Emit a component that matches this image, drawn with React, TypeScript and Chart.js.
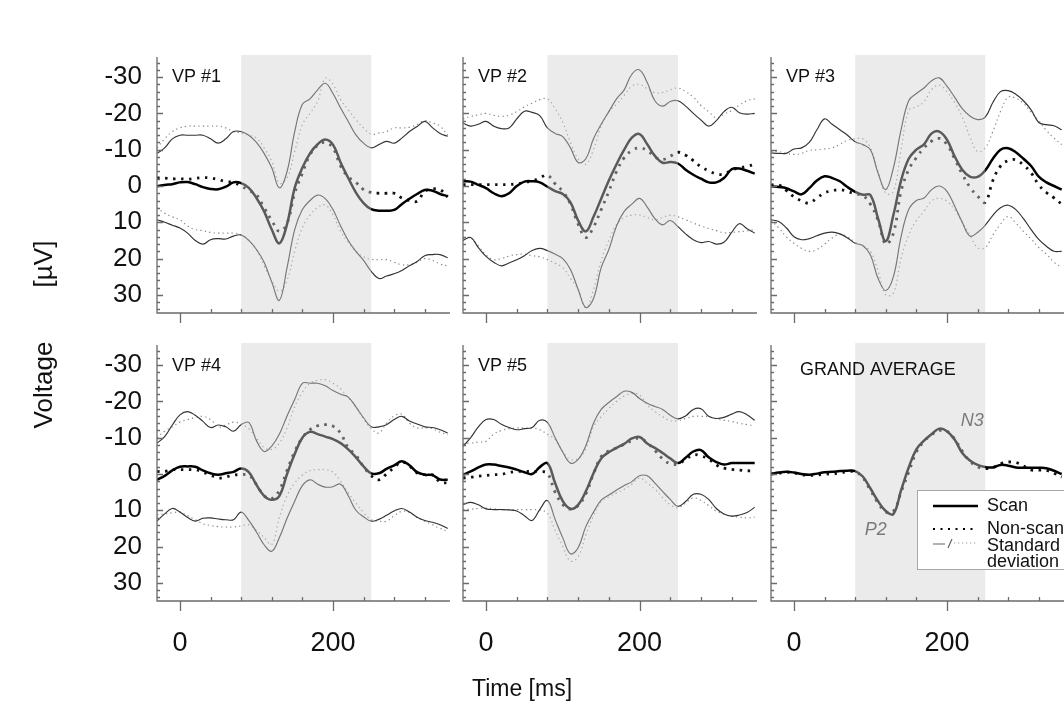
import React, { useEffect, useRef } from "react";
import { Chart, registerables } from "chart.js";

Chart.register(...registerables);

const FONT = '"Liberation Sans", Arial, Helvetica, sans-serif';
Chart.defaults.font.family = FONT;

// ---------- data ----------
const times = [-30, -20, -10, 0, 10, 20, 30, 40, 50, 60, 70, 80, 90, 100, 110, 120, 130, 140, 150, 160, 170, 180, 190, 200, 210, 220, 230, 240, 250, 260, 270, 280, 290, 300, 310, 320, 330, 340, 350];
const xTickValues = [0, 200];
const xMinorTicks = [40, 80, 120, 160, 240, 280, 320];
const yTickValues = [-30, -20, -10, 0, 10, 20, 30];
const windowStart = 80;
const windowEnd = 250;
const X_MIN = -30;
const X_MAX = 353;
const Y_MIN = -35;
const Y_MAX = 35;

const vp1Scan = [0.1, -0.3, -0.5, -1.0, -1.1, -0.5, 0.3, 0.8, 0.9, 0.2, -1.0, -0.8, 0.5, 3.3, 7, 12, 15.8, 10.5, 0.5, -5, -9, -11.5, -12.8, -11.4, -6.5, -2.2, 1.8, 4.7, 6.4, 6.8, 6.8, 6.6, 5, 3.5, 2.2, 1.1, 1.3, 2.2, 2.8];
const vp1NonScan = [-2.2, -2.2, -2.0, -2.0, -1.9, -2.1, -2.3, -2.2, -1.8, -1.2, -1.0, 0, 1.2, 2.4, 6, 9.5, 12.5, 10.3, 2, -3.5, -8.6, -11.2, -12, -10.5, -5.5, -2.5, -1, 1, 1.8, 2, 2, 2, 3.3, 4, 4.2, 1.5, 0.8, 1.0, 3];
const vp1ScanUpper = [-9, -10.5, -13, -14, -14, -14, -14, -13, -11.8, -13, -15, -15, -14, -12, -9, -5, 0.5, -4, -15, -22.5, -24, -26.5, -28.3, -25.5, -21.5, -17.8, -14.1, -11.8, -10.5, -11.4, -12.3, -11.8, -13.2, -15, -16.4, -17.8, -16.1, -14.5, -13.7];
const vp1ScanLower = [9.3, 10, 10.8, 11.6, 13, 15, 16, 14.8, 14.5, 14.6, 13.8, 13.5, 15, 17.5, 21, 26.5, 31.5, 22.5, 12, 6.5, 4, 2.5, 3.5, 6.5, 11, 15, 18, 20.5, 23.5, 25.5, 24.8, 24.2, 23.3, 22, 20.8, 19.2, 18.9, 18.9, 19.8];
const vp1NonUpper = [-10.5, -13, -15, -16, -16.5, -16.5, -16.5, -16.5, -16.5, -16, -15, -14.6, -14, -13.2, -10.5, -6.8, -0.8, -2.2, -9.5, -16.9, -20, -23.3, -29.7, -28, -23.8, -21, -18.3, -16, -14.3, -14.6, -15, -16, -16, -16.2, -16.9, -18, -17.4, -16.5, -14];
const vp1NonLower = [6, 7.5, 8.5, 9.3, 11, 12, 12.3, 12.8, 13, 13, 13, 13.5, 15, 17.5, 22, 26, 29, 26, 18, 11.5, 8, 6, 5.2, 8, 12.5, 15.5, 18, 19.5, 20.2, 20.3, 20.3, 21, 21.7, 21.7, 21, 20, 20.5, 21.5, 22];

const vp2Scan = [-1.3, -1.2, -0.3, 0.6, 2, 2.8, 2, 0, -1.2, -1.3, -1, 0.2, 1.4, 2.2, 4.5, 9.5, 12.5, 8.5, 3.5, -1.5, -6, -10, -13.3, -14.3, -11.5, -8.3, -6.4, -6.6, -6.2, -4.5, -3.1, -2, -1, -1, -2.2, -4.6, -4.8, -4.2, -3.4];
const vp2NonScan = [-0.4, -0.4, -0.4, -0.4, -0.4, -0.4, -0.4, -0.6, -1, -1.4, -2.2, -3, -0.6, 1.5, 5, 10.5, 14.2, 11.3, 6.5, 1.5, -4, -7.8, -9.8, -10.5, -9.8, -8, -7.3, -8.2, -9.3, -8.5, -7, -5.3, -4.2, -3.3, -3.3, -4.4, -5, -5.4, -6];
const vp2ScanUpper = [-17.3, -16.5, -17, -17.8, -16.5, -15.8, -16, -18.5, -20.6, -20.3, -19.4, -16, -14.5, -13.6, -10.5, -6.5, -7.5, -13, -17, -20.5, -24, -26.5, -30.8, -32, -28.5, -23.5, -22, -23.3, -23.5, -22, -20, -18.2, -16.5, -18, -20.5, -21.7, -20.2, -19.8, -20];
const vp2ScanLower = [15, 14.2, 17, 19.4, 21, 22, 21.2, 20.3, 19.2, 17.8, 17.2, 17.8, 18.8, 20, 23, 28.5, 33.5, 31, 22.5, 17.5, 11, 7, 5, 3.4, 5.8, 9, 10.7, 9.5, 11.2, 13.2, 14.8, 15.6, 15.3, 16, 15.5, 12.8, 10.4, 11.8, 13];
const vp2NonUpper = [-18.5, -19.2, -19.6, -20, -19.5, -19.2, -19.5, -20.5, -21.8, -22.8, -23.8, -24, -21.3, -17.5, -12, -7.5, -6, -10, -16.5, -20.5, -22.5, -25, -27.5, -28, -26.8, -25.7, -25.8, -26.5, -27, -26, -24.5, -22.2, -20.5, -18.8, -19.8, -20.8, -22.3, -23.5, -24];
const vp2NonLower = [14.5, 14.3, 16.5, 19, 20.3, 20, 19.3, 18.9, 18.8, 19.2, 19.5, 20.3, 21.3, 22.5, 25.5, 28.5, 33.5, 28.5, 20.5, 15, 10.6, 8.7, 8, 8, 8.7, 9.3, 8.7, 8, 8.5, 9.3, 10.2, 11, 11.7, 12.3, 12.9, 12.8, 12.6, 12.4, 12];

const vp3Scan = [0.1, 0.3, 0.6, 1.5, 2.3, 0.6, -1.5, -2.7, -2.2, -1.3, 0.3, 1.6, 2.4, 2.5, 9, 15.2, 8, -1.5, -7.5, -10, -11.5, -14.5, -15, -12.8, -8.2, -4.5, -2.6, -2.5, -4.3, -7.5, -10, -10.4, -9.3, -7.5, -5.5, -2.6, -1, 0, 1];
const vp3NonScan = [-0.3, -0.3, 1.2, 3, 4.1, 4.7, 3.3, 1.9, 1.3, 1, 1.5, 2.2, 2.6, 5, 9.5, 16, 13, 1.5, -4.5, -7.8, -10.5, -12.4, -13.1, -11.4, -7.5, -3.3, 0.3, 2.8, 4.5, -1.5, -5.5, -7, -7.2, -5.8, -3.6, -0.3, 1.8, 3.3, 5];
const vp3ScanUpper = [-9.1, -9, -9, -10.2, -10.5, -12, -15.5, -18.5, -17, -15.5, -14, -12.2, -11.4, -10, -3.5, 1, -5, -15.5, -23.5, -25.5, -27, -29, -29.8, -27.5, -24.5, -21.3, -19.3, -18.3, -19, -23, -26, -26.3, -25.3, -23.5, -21, -17.5, -16.9, -16.6, -15.5];
const vp3ScanLower = [9.3, 9.8, 11.5, 14, 14.8, 14.5, 13.7, 13, 12.7, 13.2, 14.3, 15.8, 16.4, 19, 25.5, 28.8, 25, 14, 6.5, 4, 3.3, 1, 0, 1.5, 5.5, 10, 13.8, 12.8, 10.8, 8.1, 6, 5.3, 6.5, 9, 12, 14.7, 16.6, 18, 18];
const vp3NonUpper = [-9.5, -9.5, -9, -8.7, -9, -9.8, -10, -10.2, -10.5, -11.5, -12.6, -13, -13, -10.5, -4, 2, 1.5, -10, -20.8, -21.8, -23.2, -26.6, -27.8, -26, -23, -19, -13.6, -9.5, -10.5, -15, -20.5, -24.5, -24.2, -22.8, -20.3, -18, -15.3, -13.2, -11.4];
const vp3NonLower = [9.5, 11.5, 14, 15.8, 17.2, 18, 17.5, 16, 14.3, 13.3, 14, 15.5, 16.5, 18, 23.5, 30, 29.5, 20, 13.5, 9.5, 7, 4.1, 3.4, 4.2, 6.5, 10, 13.5, 17, 17, 13.5, 10.5, 8.4, 10.2, 12.5, 14.6, 17, 18.8, 21, 22.5];

const vp4Scan = [1.6, 0.5, -1, -2, -2.1, -2, -1, -0.2, 0.2, -0.2, -0.6, -1.5, -0.5, 3, 6, 7.1, 6, 0, -5.5, -10, -11.6, -11, -10.3, -9.6, -8.5, -6.8, -4.6, -2.1, -0.2, -0.2, -1.4, -2.4, -3.5, -2.4, -0.5, 0.2, 0.3, 1.5, 1.6];
const vp4NonScan = [-0.7, -0.7, -1.2, -1.2, -1.2, -1.2, -0.5, 0.3, 1.1, 0.8, 0.3, 0.2, 0.3, 2.9, 6, 6.8, 4.5, -1, -6.2, -10, -12.2, -13.3, -13.6, -13.2, -11.2, -7.2, -5.2, -2, 0.5, 1.6, 0, -1.8, -3.3, -2.2, -0.3, 0.2, 0.2, 2.2, 2.5];
const vp4ScanUpper = [-8.5, -10.3, -13.5, -16.3, -17.2, -16.2, -14.5, -12.8, -13.5, -13, -11.8, -13.6, -14.2, -9.2, -6.2, -7.7, -11, -16, -20.5, -25, -25, -25, -24.3, -23, -22, -21.2, -18.5, -15.5, -13, -13, -13.6, -15, -15.9, -14.6, -13.8, -13, -12.8, -12.2, -11.3];
const vp4ScanLower = [13, 11, 9.5, 10.5, 12, 13, 12.2, 12.1, 12.4, 12.6, 12.6, 10.5, 12.8, 16, 19.5, 21.3, 17.5, 12.2, 7.5, 3.2, 1.6, 2.8, 3.6, 3.5, 2.8, 6, 10, 11.8, 13, 12.5, 11.4, 10.2, 9.5, 10.5, 11.9, 12.8, 13.3, 14, 15];
const vp4NonUpper = [-10, -11.8, -13, -14.3, -15, -15.5, -15.9, -15, -13, -13.5, -14.3, -13.8, -12.5, -9.9, -7.3, -6.8, -8.5, -12.7, -18.5, -22.5, -25, -25.8, -26, -25, -23.5, -21, -18.5, -15.2, -12.5, -11.3, -14, -16, -16.5, -14, -12.7, -12.7, -12.5, -11.5, -10.8];
const vp4NonLower = [11.2, 11, 10.7, 10.5, 11.5, 12.6, 13.7, 14.2, 14.5, 14.6, 14.6, 14.3, 14, 15.5, 17.5, 19.4, 12, 6, 2.5, 0.3, -0.9, -1.2, -1.2, -0.5, 2, 5.2, 8, 10.6, 12.6, 13, 13, 11.5, 10.3, 10.6, 12, 13, 14, 15, 15.8];

const vp5Scan = [0.2, -0.7, -1.8, -2.6, -2.6, -2.2, -1.8, -1.2, -0.5, 0, -1.9, -3, 2.5, 7.5, 9.6, 8.5, 4.8, -0.2, -4.3, -6, -7.2, -8.3, -9.8, -10.2, -8.4, -7.2, -5.8, -4.3, -3, -4.5, -6.2, -6.6, -4.6, -3.3, -2.6, -3, -3, -3, -3];
const vp5NonScan = [1.1, 0.9, 0.6, 0.4, 0.2, 0.1, -0.4, -0.7, -0.7, -0.7, -0.7, -0.2, 5, 8.4, 9.7, 8.7, 5.5, 0, -4.8, -6.4, -7.2, -8.2, -9.2, -9.9, -8.6, -6.5, -4.2, -2.8, -2.8, -4, -5.3, -5, -4.1, -2.5, -1.6, -1.3, -1.1, -0.9, -0.9];
const vp5ScanUpper = [-7.6, -10, -13, -15, -15, -13.7, -12.8, -12.2, -12.5, -12.8, -14.8, -14.2, -10, -6, -3, -4, -7.8, -14, -17.8, -19.7, -21.3, -22.8, -22.5, -20.8, -19.5, -18.6, -17.8, -16.2, -15.2, -16, -17.8, -18, -15.9, -15.3, -15.6, -16.5, -17.2, -16.3, -14.8];
const vp5ScanLower = [8.4, 7.8, 8.5, 9.6, 9.8, 9.8, 9.9, 10.2, 11.5, 12.8, 9.8, 7.3, 12.5, 17.6, 22, 20.3, 14.5, 10.5, 7.2, 5.8, 4.4, 3.2, 2.1, 0.5, 0.5, 2.5, 4.8, 7, 8.9, 7.6, 5.6, 5.6, 7, 9.5, 11, 11.6, 11.3, 10.6, 9.2];
const vp5NonUpper = [-8.3, -8.5, -8.8, -9, -11, -12, -12.5, -12.7, -12.7, -12.7, -12.2, -10.9, -9.5, -6.2, -4, -4.2, -7, -13, -15.8, -18, -20, -21.5, -22.2, -21.8, -19, -17.2, -15.8, -14.7, -14.7, -15.3, -15.9, -15.9, -15.8, -15.2, -14.8, -14.5, -14, -13.6, -13.3];
const vp5NonLower = [9.8, 9.7, 9.5, 9.4, 9.6, 9.8, 9.8, 9.8, 9.8, 9.8, 9.9, 10.8, 15.5, 20, 24, 22.8, 16.8, 11.5, 7.6, 6.3, 5.2, 4.2, 2.8, 1.1, 2.5, 4.2, 6.5, 8.5, 9.3, 8, 6.6, 7.3, 8.7, 10.2, 11, 11.6, 11.9, 12.1, 11.9];

const gaScan = [0, -0.4, -0.6, -0.4, 0, 0.2, -0.1, -0.5, -0.6, -0.8, -0.9, -0.8, 0.7, 4, 7.5, 10.2, 11, 4.5, -1.8, -6.8, -9.2, -11, -12.5, -11.8, -9.5, -5.8, -3.7, -2.5, -1.9, -1.8, -2.5, -2.3, -1.8, -1.7, -1.7, -1.7, -1.6, -0.9, 0];
const gaNonScan = [0, -0.2, -0.5, -0.3, 0.2, 0.4, 0.3, 0, 0, -0.3, -0.6, -0.6, 1, 4.5, 8, 10.5, 10.3, 5, -0.5, -6, -9, -10.8, -12, -11.8, -9.7, -6.3, -3.5, -2, -1.5, -1.8, -2.8, -3.3, -3.2, -2.2, -1.1, -1.1, -1, -0.2, 0.8];

const panelTitles = ["VP #1", "VP #2", "VP #3", "VP #4", "VP #5", "GRAND AVERAGE"];
const legendLabels = ["Scan", "Non-scan", "Standard", "deviation"];
const peakLabels = [
  { text: "N3", t: 233, v: -14.6 },
  { text: "P2", t: 107, v: 15.4 },
];

interface PanelData {
  title: string;
  scan: number[];
  nonScan: number[];
  scanUpper?: number[];
  scanLower?: number[];
  nonUpper?: number[];
  nonLower?: number[];
}

const panelData: PanelData[] = [
  { title: panelTitles[0], scan: vp1Scan, nonScan: vp1NonScan, scanUpper: vp1ScanUpper, scanLower: vp1ScanLower, nonUpper: vp1NonUpper, nonLower: vp1NonLower },
  { title: panelTitles[1], scan: vp2Scan, nonScan: vp2NonScan, scanUpper: vp2ScanUpper, scanLower: vp2ScanLower, nonUpper: vp2NonUpper, nonLower: vp2NonLower },
  { title: panelTitles[2], scan: vp3Scan, nonScan: vp3NonScan, scanUpper: vp3ScanUpper, scanLower: vp3ScanLower, nonUpper: vp3NonUpper, nonLower: vp3NonLower },
  { title: panelTitles[3], scan: vp4Scan, nonScan: vp4NonScan, scanUpper: vp4ScanUpper, scanLower: vp4ScanLower, nonUpper: vp4NonUpper, nonLower: vp4NonLower },
  { title: panelTitles[4], scan: vp5Scan, nonScan: vp5NonScan, scanUpper: vp5ScanUpper, scanLower: vp5ScanLower, nonUpper: vp5NonUpper, nonLower: vp5NonLower },
  { title: panelTitles[5], scan: gaScan, nonScan: gaNonScan },
];

// ---------- layout ----------
const W = 1064;
const H = 702;
const rowTop = [59, 347];
const rowBottom = [313, 601];
const colLeft = [157, 463, 771];
const colRight = [450, 757, 1064];
const Y_W = 60;
const X_H = 60;

interface Box { row: number; col: number; titleDx: number; titleDy: number; grand?: boolean }
const boxes: Box[] = [
  { row: 0, col: 0, titleDx: 15, titleDy: 18 },
  { row: 0, col: 1, titleDx: 15, titleDy: 18 },
  { row: 0, col: 2, titleDx: 15, titleDy: 18 },
  { row: 1, col: 0, titleDx: 15, titleDy: 19 },
  { row: 1, col: 1, titleDx: 15, titleDy: 19 },
  { row: 1, col: 2, titleDx: 29, titleDy: 23, grand: true },
];

const AXIS = "#6b6b6b";

function decor(d: PanelData, b: Box) {
  return {
    id: "decor",
    afterDatasetsDraw(chart: any) {
      const { ctx, chartArea: a, scales } = chart;
      const x0 = scales.x.getPixelForValue(windowStart);
      const x1 = scales.x.getPixelForValue(windowEnd);
      ctx.save();
      ctx.fillStyle = "rgba(209,209,209,0.43)";
      ctx.fillRect(x0, a.top - 4, x1 - x0, a.bottom - a.top + 4);
      ctx.restore();
    },
    afterDraw(chart: any) {
      const { ctx, chartArea: a, scales } = chart;
      const xs = scales.x;
      const ys = scales.y;
      ctx.save();
      ctx.strokeStyle = AXIS;
      ctx.lineWidth = 1.3;
      ctx.beginPath();
      ctx.moveTo(a.left, a.top - 2);
      ctx.lineTo(a.left, a.bottom);
      ctx.lineTo(a.right, a.bottom);
      for (let v = -34; v <= 34; v += 2) {
        const py = Math.round(ys.getPixelForValue(v)) + 0.5;
        const len = v % 10 === 0 ? 6 : 3;
        ctx.moveTo(a.left, py);
        ctx.lineTo(a.left + len, py);
      }
      for (const t of xMinorTicks) {
        const px = Math.round(xs.getPixelForValue(t)) + 0.5;
        ctx.moveTo(px, a.bottom);
        ctx.lineTo(px, a.bottom - 4);
      }
      for (const t of xTickValues) {
        const px = Math.round(xs.getPixelForValue(t)) + 0.5;
        ctx.moveTo(px, a.bottom);
        ctx.lineTo(px, a.bottom + 10);
      }
      ctx.stroke();

      // title
      ctx.fillStyle = "#111";
      ctx.font = `18px ${FONT}`;
      ctx.textBaseline = "middle";
      ctx.textAlign = "left";
      ctx.fillText(d.title, a.left + b.titleDx, a.top + b.titleDy);

      if (b.grand) {
        // peak labels
        ctx.fillStyle = "#7a7a7a";
        ctx.font = `italic 18px ${FONT}`;
        ctx.textAlign = "center";
        for (const p of peakLabels) {
          ctx.fillText(p.text, xs.getPixelForValue(p.t), ys.getPixelForValue(p.v));
        }
        // legend
        const lx = a.left + 146;
        const ly = a.top + 143;
        ctx.fillStyle = "#ffffff";
        ctx.fillRect(lx, ly, 200, 79);
        ctx.strokeStyle = "#a8a8a8";
        ctx.lineWidth = 1;
        ctx.strokeRect(lx + 0.5, ly + 0.5, 200, 79);
        const sx0 = lx + 16;
        const sx1 = lx + 61;
        const tx = lx + 70;
        // scan
        ctx.strokeStyle = "#000";
        ctx.lineWidth = 2.4;
        ctx.setLineDash([]);
        ctx.beginPath();
        ctx.moveTo(sx0, ly + 16);
        ctx.lineTo(sx1, ly + 16);
        ctx.stroke();
        // non-scan
        ctx.lineWidth = 2.2;
        ctx.setLineDash([2, 5.5]);
        ctx.beginPath();
        ctx.moveTo(sx0, ly + 39);
        ctx.lineTo(sx1, ly + 39);
        ctx.stroke();
        // sd symbol
        ctx.setLineDash([]);
        ctx.strokeStyle = "#666";
        ctx.lineWidth = 1.2;
        ctx.beginPath();
        ctx.moveTo(sx0, ly + 54);
        ctx.lineTo(sx0 + 12, ly + 54);
        ctx.moveTo(sx0 + 15, ly + 58);
        ctx.lineTo(sx0 + 19, ly + 49);
        ctx.stroke();
        ctx.strokeStyle = "#999";
        ctx.setLineDash([1.2, 2.8]);
        ctx.beginPath();
        ctx.moveTo(sx0 + 21, ly + 53);
        ctx.lineTo(sx1, ly + 53);
        ctx.stroke();
        ctx.setLineDash([]);
        ctx.fillStyle = "#111";
        ctx.font = `18px ${FONT}`;
        ctx.textAlign = "left";
        ctx.fillText(legendLabels[0], tx, ly + 16);
        ctx.fillText(legendLabels[1], tx, ly + 39);
        ctx.fillText(legendLabels[2], tx, ly + 56);
        ctx.fillText(legendLabels[3], tx, ly + 72);
      }
      ctx.restore();
    },
  };
}

function buildConfig(d: PanelData, b: Box): any {
  const showY = b.col === 0;
  const showX = b.row === 1;
  const pts = (arr: number[]) => times.map((t, i) => ({ x: t, y: arr[i] }));
  const datasets: any[] = [
    { label: "Scan", data: pts(d.scan), borderColor: "#000", borderWidth: 2.5 },
    { label: "Non-scan", data: pts(d.nonScan), borderColor: "#111", borderWidth: 2.8, borderDash: [2.5, 5.5] },
  ];
  if (d.scanUpper && d.scanLower && d.nonUpper && d.nonLower) {
    const sdScan = { borderColor: "#333", borderWidth: 1.15 };
    const sdNon = { borderColor: "#8a8a8a", borderWidth: 1.2, borderDash: [1.3, 3.2] };
    datasets.push(
      { label: "Scan +SD", data: pts(d.scanUpper), ...sdScan },
      { label: "Scan -SD", data: pts(d.scanLower), ...sdScan },
      { label: "Non-scan +SD", data: pts(d.nonUpper), ...sdNon },
      { label: "Non-scan -SD", data: pts(d.nonLower), ...sdNon }
    );
  }
  return {
    type: "line",
    data: { datasets },
    options: {
      animation: false,
      responsive: false,
      maintainAspectRatio: false,
      devicePixelRatio: 1,
      events: [],
      layout: {
        padding: {
          left: showY ? colLeft[b.col] - Y_W : colLeft[b.col],
          right: W - colRight[b.col],
          top: rowTop[b.row],
          bottom: showX ? H - rowBottom[b.row] - X_H : H - rowBottom[b.row],
        },
      },
      elements: { point: { radius: 0 }, line: { tension: 0.4, fill: false } },
      plugins: { legend: { display: false }, tooltip: { enabled: false } },
      scales: {
        x: {
          type: "linear",
          min: X_MIN,
          max: X_MAX,
          display: showX,
          grid: { display: false, drawTicks: false },
          border: { display: false },
          afterBuildTicks: (s: any) => {
            s.ticks = xTickValues.map((v) => ({ value: v }));
          },
          afterFit: (s: any) => {
            s.height = showX ? X_H : 0;
          },
          ticks: {
            padding: 26,
            color: "#111",
            font: { family: FONT, size: 27 },
            autoSkip: false,
            maxRotation: 0,
            callback: (v: any) => String(v),
          },
        },
        y: {
          type: "linear",
          reverse: true,
          min: Y_MIN,
          max: Y_MAX,
          display: showY,
          grid: { display: false, drawTicks: false },
          border: { display: false },
          afterBuildTicks: (s: any) => {
            s.ticks = yTickValues.map((v) => ({ value: v }));
          },
          afterFit: (s: any) => {
            s.width = showY ? Y_W : 0;
          },
          ticks: {
            padding: 15,
            color: "#111",
            font: { family: FONT, size: 26 },
            autoSkip: false,
            callback: (v: any) => String(v),
          },
        },
      },
    },
    plugins: [decor(d, b)],
  };
}

function Panel({ data, box }: { data: PanelData; box: Box }) {
  const ref = useRef<HTMLCanvasElement>(null);
  useEffect(() => {
    if (!ref.current) return;
    const chart = new Chart(ref.current, buildConfig(data, box));
    return () => chart.destroy();
  }, [data, box]);
  return <canvas ref={ref} width={W} height={H} style={{ position: "absolute", left: 0, top: 0, width: W, height: H }} />;
}

export default function App() {
  const textBase: React.CSSProperties = {
    position: "absolute",
    whiteSpace: "nowrap",
    color: "#111",
    fontFamily: FONT,
    lineHeight: 1,
  };
  return (
    <div style={{ position: "absolute", left: 0, top: 0, width: W, height: H, background: "#fff", overflow: "hidden" }}>
      {panelData.map((p, i) => (
        <Panel key={i} data={p} box={boxes[i]} />
      ))}
      <div style={{ ...textBase, left: 43, top: 385, fontSize: 26, transform: "translate(-50%, -50%) rotate(-90deg)" }}>Voltage</div>
      <div style={{ ...textBase, left: 43, top: 264, fontSize: 26, transform: "translate(-50%, -50%) rotate(-90deg)" }}>[µV]</div>
      <div style={{ ...textBase, left: 522, top: 688, fontSize: 23, transform: "translate(-50%, -50%)" }}>Time [ms]</div>
    </div>
  );
}
